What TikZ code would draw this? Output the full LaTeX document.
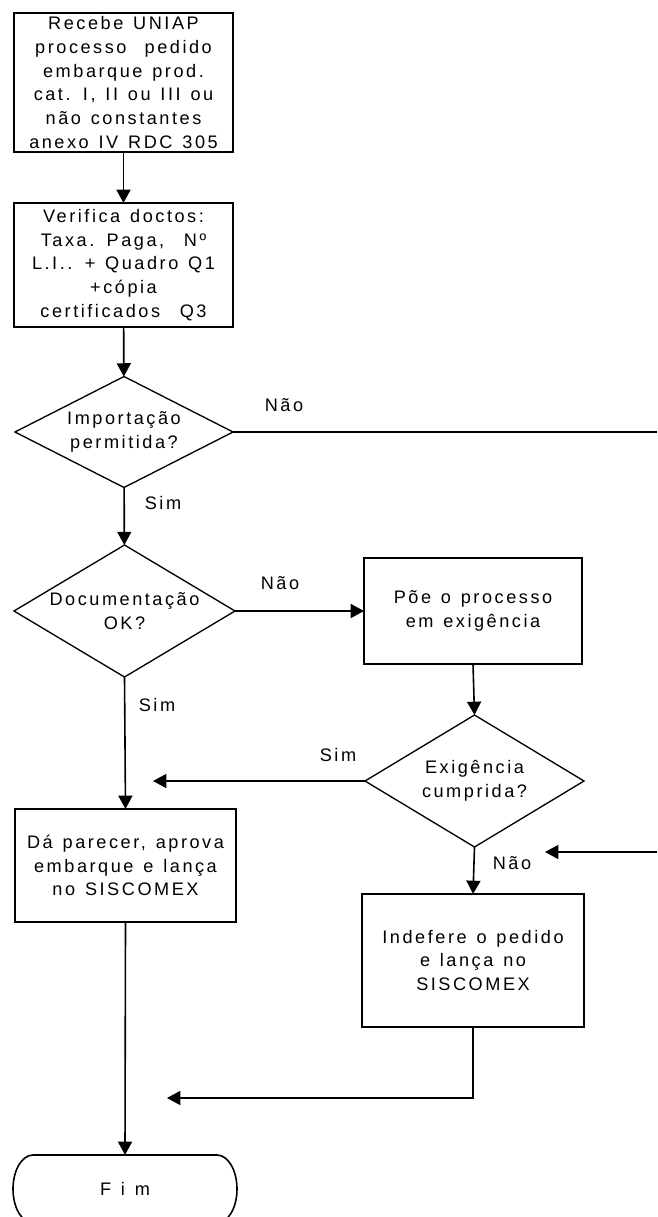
\documentclass[tikz,border=0pt]{standalone}
\usepackage{fontspec}
\setmainfont{Liberation Sans}[LetterSpace=14, WordSpace=1.3]
\usetikzlibrary{arrows.meta,shapes.geometric}

\begin{document}
\begin{tikzpicture}[x=0.75pt,y=-0.75pt,
  every node/.style={font=\fontsize{13.6}{17.8}\selectfont, inner sep=0pt, outer sep=0pt},
  box/.style={draw, rectangle, line width=1.5pt, align=center},
  dia/.style={draw, diamond, line width=1pt},
  txt/.style={align=center},
  wire/.style={line width=1.2pt},
  arr/.style={wire, -{Triangle[length=10pt,width=10.5pt]}}]

\useasboundingbox (0,0) rectangle (657,1217);
\clip (0,0) rectangle (657,1217);

% process boxes
\node[box, minimum width=219*0.75pt, minimum height=139*0.75pt] (b1) at (123.5,82.5)
  {Recebe UNIAP\\processo\quad pedido\\embarque\ prod.\\cat. I, II ou III ou\\não constantes\\anexo IV RDC 305};
\node[box, minimum width=219*0.75pt, minimum height=124*0.75pt] (b2) at (123.5,265)
  {Verifica doctos:\\Taxa. Paga,\ \ Nº\\L.I.. + Quadro Q1\\+cópia\\certificados\ \ Q3};
\node[box, minimum width=218*0.75pt, minimum height=106*0.75pt] (b3) at (473,611)
  {Põe o processo\\em exigência};
\node[box, minimum width=221*0.75pt, minimum height=113*0.75pt] (b4) at (125.5,865.5)
  {Dá parecer, aprova\\embarque e lança\\no SISCOMEX};
\node[box, minimum width=222*0.75pt, minimum height=133*0.75pt] (b5) at (473,960.5)
  {Indefere o pedido\\e lança no\\SISCOMEX};

% decisions
\node[dia, minimum width=218*0.75pt, minimum height=111*0.75pt] (d1) at (124,432) {};
\node[txt] (t1) at (d1) {Importação\\permitida?};
\node[dia, minimum width=221*0.75pt, minimum height=132*0.75pt] (d2) at (124.5,611) {};
\node[txt] (t2) at (d2) {Documentação\\OK?};
\node[dia, minimum width=219*0.75pt, minimum height=132*0.75pt] (d3) at (474.5,781) {};
\node[txt] (t3) at (d3) {Exigência\\cumprida?};

% terminator
\node[minimum width=224*0.75pt, minimum height=68*0.75pt] (fim) at (125,1189) {F i m};
\draw[wire] ([xshift=20*0.75pt]fim.north west) -- ([xshift=-20*0.75pt]fim.north east)
  arc[start angle=90, end angle=-90, x radius=20*0.75pt, y radius=34*0.75pt]
  -- ([xshift=20*0.75pt]fim.south west)
  arc[start angle=270, end angle=90, x radius=20*0.75pt, y radius=34*0.75pt] -- cycle;

% free ends of connectors
\coordinate (e1) at (657,432);
\coordinate (s3) at (153,781);
\coordinate (e2) at (657,852);
\coordinate (n3) at (545,852);
\coordinate (k5) at (473,1098);
\coordinate (r5) at (167,1098);

% connectors
\draw[arr] (b1) -- (b2);
\draw[arr] (b2) -- (d1);
\draw[wire] (d1.east) -- (e1);
\draw[arr] (d1) -- (d2);
\draw[arr] (d2.east) -- (b3.west);
\draw[arr] (d2.south) -- (b4.north);
\draw[arr] (b3.south) -- (d3.north);
\draw[arr] (d3.west) -- (s3);
\draw[arr] (d3.south) -- (b5.north);
\draw[arr] (e2) -- (n3);
\draw[arr] (b5.south) -- (k5) -- (r5);
\draw[arr] (b4.south) -- (fim.north);

% branch labels
\node (l1) at (284,405) {Não};
\node (l2) at (163,503) {Sim};
\node (l3) at (280,583) {Não};
\node (l4) at (157,705) {Sim};
\node (l5) at (338,755) {Sim};
\node (l6) at (512,863) {Não};
\end{tikzpicture}
\end{document}
